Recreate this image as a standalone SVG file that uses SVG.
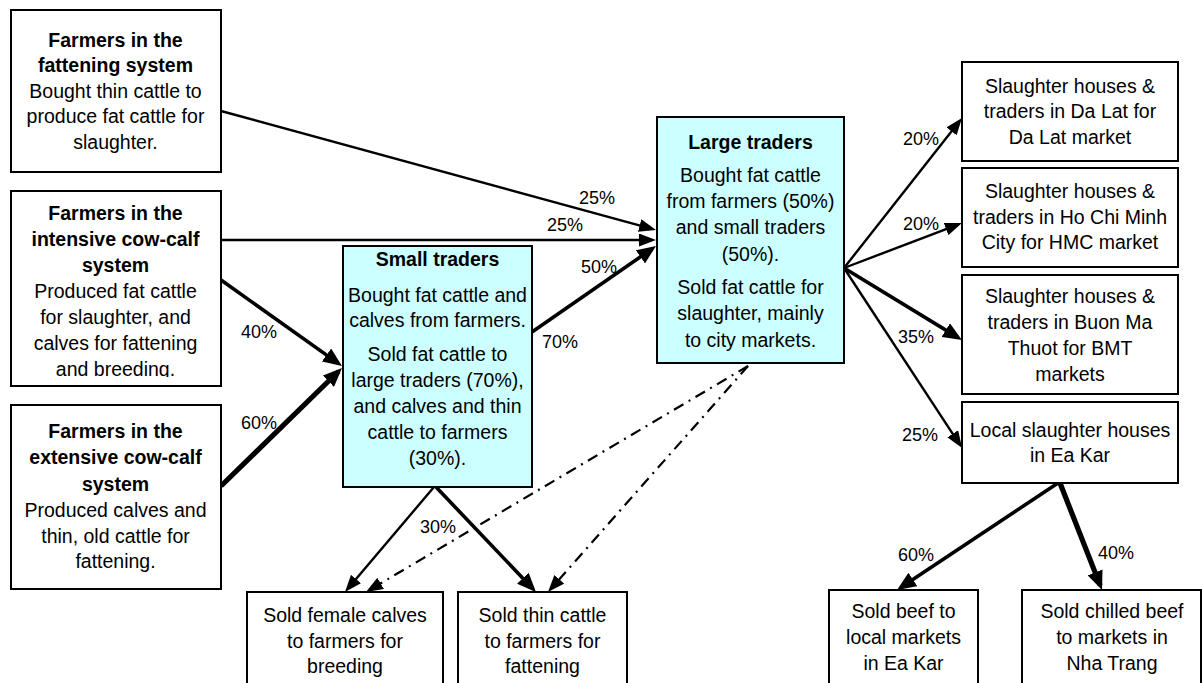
<svg xmlns="http://www.w3.org/2000/svg" width="1202" height="683" viewBox="0 0 1202 683">
<style>
  .box { fill: #ffffff; stroke: #000000; stroke-width: 2; }
  .trader { fill: #ccffff; stroke: #000000; stroke-width: 2; }
  text { font-family: "Liberation Sans", Arial, sans-serif; fill: #000000; }
  .t { font-size: 19.5px; text-anchor: middle; }
  .b { font-weight: bold; }
  .lbl { font-size: 18px; }
  .c { fill: none; stroke: #000000; stroke-linecap: butt; }
  .w1 { stroke-width: 2.4; marker-end: url(#ah); }
  .w2 { stroke-width: 3.6; marker-end: url(#ahb); }
  .w3 { stroke-width: 5.2; marker-end: url(#ahb); }
  .dd { stroke-width: 2.2; stroke-dasharray: 11 6 2 6; marker-end: url(#ah); }
</style>
<defs>
  <marker id="ah" markerUnits="userSpaceOnUse" markerWidth="17" markerHeight="13" refX="12" refY="6.5" orient="auto">
    <path d="M0,0 L17,6.5 L0,13 z" fill="#000"/>
  </marker>
  <marker id="ahb" markerUnits="userSpaceOnUse" markerWidth="19" markerHeight="16" refX="14" refY="8" orient="auto">
    <path d="M0,0 L19,8 L0,16 z" fill="#000"/>
  </marker>
  <clipPath id="clip2"><rect x="10" y="191" width="212" height="186"/></clipPath>
</defs>

<g id="connectors">
  <path class="c w1" d="M221,111 L651.2,228.7"/>
  <path class="c w1" d="M221,240 L651,240"/>
  <path class="c w2" d="M221,280 L337.9,363.1"/>
  <path class="c w3" d="M221,486 L338.4,371.5"/>
  <path class="c w2" d="M532,332 L651.9,248.9"/>
  <path class="c w1" d="M844,268 L958.9,121.9"/>
  <path class="c w1" d="M844,268 L957.3,224.8"/>
  <path class="c w2" d="M844,268 L957.7,337.4"/>
  <path class="c w1" d="M844,268 L959.3,443.8"/>
  <path class="c w1" d="M434,487 L348.2,588.2"/>
  <path class="c w2" d="M436,487 L532.5,588.4"/>
  <path class="c dd" d="M748,366 L370.3,589.5"/>
  <path class="c dd" d="M748,366 L551.3,588.3"/>
  <path class="c w2" d="M1058,483 L901.2,587.2"/>
  <path class="c w3" d="M1060,483 L1100.2,585.4"/>
</g>

<g id="labels">
  <text class="lbl" x="579" y="204">25%</text>
  <text class="lbl" x="547" y="231">25%</text>
  <text class="lbl" x="581" y="273">50%</text>
  <text class="lbl" x="542" y="348">70%</text>
  <text class="lbl" x="241" y="338">40%</text>
  <text class="lbl" x="241" y="429">60%</text>
  <text class="lbl" x="903" y="145">20%</text>
  <text class="lbl" x="903" y="230">20%</text>
  <text class="lbl" x="898" y="343">35%</text>
  <text class="lbl" x="902" y="441">25%</text>
  <text class="lbl" x="420" y="533">30%</text>
  <text class="lbl" x="898" y="561">60%</text>
  <text class="lbl" x="1098" y="559">40%</text>
</g>

<g id="fattening">
  <rect class="box" x="11" y="10" width="210" height="162"/>
  <text class="t b" x="115.5" y="47">Farmers in the</text>
  <text class="t b" x="115.5" y="72">fattening system</text>
  <text class="t" x="115.5" y="98">Bought thin cattle to</text>
  <text class="t" x="115.5" y="123">produce fat cattle for</text>
  <text class="t" x="115.5" y="149">slaughter.</text>
</g>

<g id="intensive">
  <rect class="box" x="11" y="191" width="210" height="195"/>
  <g clip-path="url(#clip2)">
    <text class="t b" x="115.5" y="220">Farmers in the</text>
    <text class="t b" x="115.5" y="246">intensive cow-calf</text>
    <text class="t b" x="115.5" y="272">system</text>
    <text class="t" x="115.5" y="298">Produced fat cattle</text>
    <text class="t" x="115.5" y="324">for slaughter, and</text>
    <text class="t" x="115.5" y="350">calves for fattening</text>
    <text class="t" x="115.5" y="376">and breeding.</text>
  </g>
</g>

<g id="extensive">
  <rect class="box" x="11" y="405" width="210" height="184"/>
  <text class="t b" x="115.5" y="438">Farmers in the</text>
  <text class="t b" x="115.5" y="464">extensive cow-calf</text>
  <text class="t b" x="115.5" y="491">system</text>
  <text class="t" x="115.5" y="517">Produced calves and</text>
  <text class="t" x="115.5" y="543">thin, old cattle for</text>
  <text class="t" x="115.5" y="568">fattening.</text>
</g>

<g id="small-traders">
  <rect class="trader" x="343" y="246" width="189" height="241"/>
  <text class="t b" x="437.5" y="266">Small traders</text>
  <text class="t" x="437.5" y="302">Bought fat cattle and</text>
  <text class="t" x="437.5" y="327">calves from farmers.</text>
  <text class="t" x="437.5" y="361">Sold fat cattle to</text>
  <text class="t" x="437.5" y="387">large traders (70%),</text>
  <text class="t" x="437.5" y="413">and calves and thin</text>
  <text class="t" x="437.5" y="439">cattle to farmers</text>
  <text class="t" x="437.5" y="465">(30%).</text>
</g>

<g id="large-traders">
  <rect class="trader" x="657" y="117" width="187" height="246"/>
  <text class="t b" x="750.5" y="149">Large traders</text>
  <text class="t" x="750.5" y="182">Bought fat cattle</text>
  <text class="t" x="750.5" y="208">from farmers (50%)</text>
  <text class="t" x="750.5" y="234">and small traders</text>
  <text class="t" x="750.5" y="261">(50%).</text>
  <text class="t" x="750.5" y="294">Sold fat cattle for</text>
  <text class="t" x="750.5" y="320">slaughter, mainly</text>
  <text class="t" x="750.5" y="347">to city markets.</text>
</g>

<g id="dalat">
  <rect class="box" x="962" y="62" width="216" height="99"/>
  <text class="t" x="1070" y="93">Slaughter houses &amp;</text>
  <text class="t" x="1070" y="118">traders in Da Lat for</text>
  <text class="t" x="1070" y="144">Da Lat market</text>
</g>

<g id="hcm">
  <rect class="box" x="962" y="168" width="216" height="99"/>
  <text class="t" x="1070" y="198">Slaughter houses &amp;</text>
  <text class="t" x="1070" y="224">traders in Ho Chi Minh</text>
  <text class="t" x="1070" y="249">City for HMC market</text>
</g>

<g id="bmt">
  <rect class="box" x="962" y="275" width="216" height="119"/>
  <text class="t" x="1070" y="303">Slaughter houses &amp;</text>
  <text class="t" x="1070" y="329">traders in Buon Ma</text>
  <text class="t" x="1070" y="355">Thuot for BMT</text>
  <text class="t" x="1070" y="381">markets</text>
</g>

<g id="local">
  <rect class="box" x="962" y="402" width="216" height="81"/>
  <text class="t" x="1070" y="437">Local slaughter houses</text>
  <text class="t" x="1070" y="462">in Ea Kar</text>
</g>

<g id="female-calves">
  <rect class="box" x="247" y="592" width="196" height="100"/>
  <text class="t" x="345" y="622">Sold female calves</text>
  <text class="t" x="345" y="648">to farmers for</text>
  <text class="t" x="345" y="673">breeding</text>
</g>

<g id="thin-cattle">
  <rect class="box" x="458" y="592" width="169" height="100"/>
  <text class="t" x="542.5" y="622">Sold thin cattle</text>
  <text class="t" x="542.5" y="648">to farmers for</text>
  <text class="t" x="542.5" y="673">fattening</text>
</g>

<g id="beef-local">
  <rect class="box" x="829" y="590" width="149" height="100"/>
  <text class="t" x="903.5" y="618">Sold beef to</text>
  <text class="t" x="903.5" y="644">local markets</text>
  <text class="t" x="903.5" y="670">in Ea Kar</text>
</g>

<g id="chilled-beef">
  <rect class="box" x="1022" y="590" width="179" height="100"/>
  <text class="t" x="1112" y="618">Sold chilled beef</text>
  <text class="t" x="1112" y="644">to markets in</text>
  <text class="t" x="1112" y="670">Nha Trang</text>
</g>
</svg>
